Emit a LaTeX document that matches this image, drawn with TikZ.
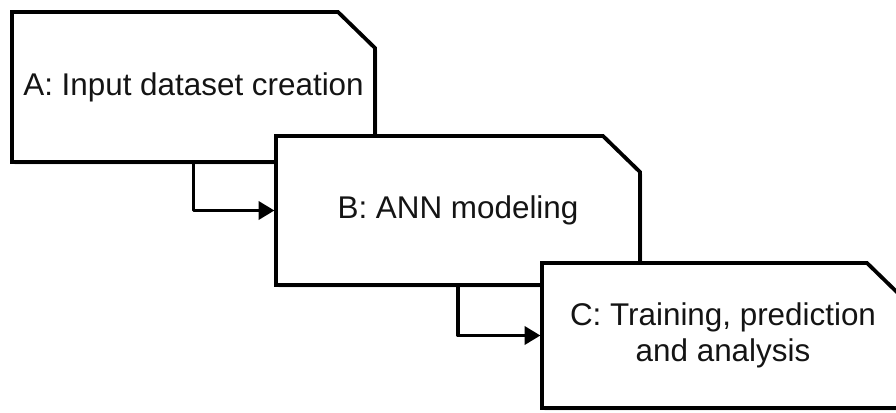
\documentclass[tikz,border=0pt]{standalone}
\usepackage{fontspec}
\setmainfont{Liberation Sans}
\usetikzlibrary{arrows.meta,shadows}

\tikzset{
  % invisible frame that fixes the size and anchors of a stage box
  stageframe/.style={draw=none, inner sep=0pt, outer sep=0pt},
  % outline of a stage box: rectangle with the top-right corner cut off
  stageline/.style={draw=black, line width=3.8pt, fill=white, line join=miter,
    drop shadow={opacity=0.2, shadow xshift=2.5pt, shadow yshift=-2.5pt}},
  stagetext/.style={inner sep=0pt, align=center, text=black!92,
    font=\fontsize{31.4}{36}\selectfont},
  flow/.style={draw=black, line width=3.8pt, line join=round,
    shorten >=1.5pt, -{Triangle[length=16pt, width=18pt]}},
}

% cut-corner outline drawn around the frame node #1
\newcommand\stageoutline[1]{%
  \path[stageline] (#1.north west) -- ([xshift=-37pt]#1.north east)
    -- ([yshift=-36pt]#1.north east) -- (#1.south east)
    -- (#1.south west) -- cycle;}

\begin{document}
\begin{tikzpicture}[x=1pt, y=-1pt]
  \useasboundingbox (0,0) rectangle (896,412);
  \clip (0,0) rectangle (896,412);

  % stage A
  \node[stageframe, minimum width=363pt, minimum height=150pt] (A) at (193.5,87) {};
  \stageoutline{A}
  \node[stagetext] (Atext) at (A) {A: Input dataset creation};

  % stage B
  \node[stageframe, minimum width=364pt, minimum height=149pt] (B) at (458,210.5) {};
  \draw[flow] (A.south) |- (B.west);
  \stageoutline{B}
  \node[stagetext] (Btext) at (B) {B: ANN modeling};

  % stage C
  \node[stageframe, minimum width=362pt, minimum height=145pt] (C) at (723,335.5) {};
  \draw[flow] (B.south) |- (C.west);
  \stageoutline{C}
  \node[stagetext] (Ctext) at (C) {C: Training, prediction\\and analysis};
\end{tikzpicture}
\end{document}
